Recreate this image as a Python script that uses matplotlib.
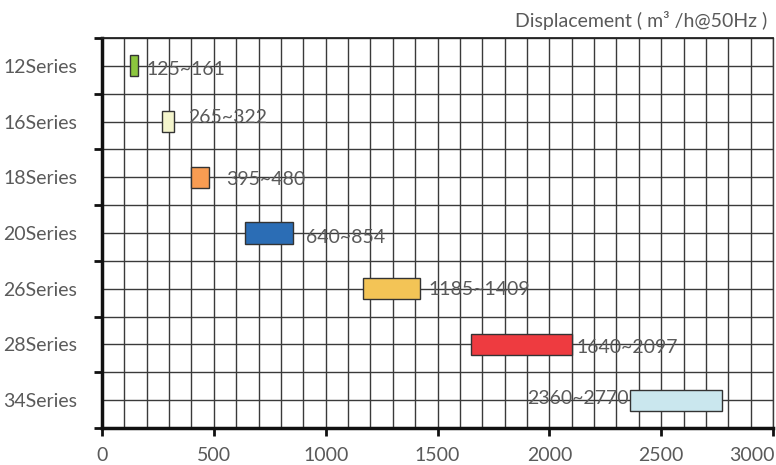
import matplotlib
matplotlib.use('Agg')
import matplotlib.pyplot as plt
import matplotlib.ticker
import matplotlib.transforms as mtransforms

plt.rcParams['font.family'] = ['Lato', 'DejaVu Sans']

# data
series = ['12Series', '16Series', '18Series', '20Series', '26Series', '28Series', '34Series']
bar_start = [125, 268, 398, 640, 1168, 1651, 2362]
bar_end = [161, 323, 478, 854, 1421, 2100, 2773]
range_labels = ['125~161', '265~322', '395~480', '640~854', '1185~1409', '1640~2097', '2360~2770']

colors = ['#8cc63e', '#f4f5cc', '#f89c52', '#2b6db5', '#f3c456', '#ee3b40', '#cae7ee']
# label placement in pixels relative to bar end (negative -> left of bar start)
label_dx = [8, 14, 17, 13, 9, 5, -2]
label_dy = [-4, 4, -2, -4, -1, -3, 2]

text_col = '#5a5a5a'
grid_col = '#3a3a3a'
fsize = 14


def draw():
	fig = plt.figure(figsize=(7.76, 4.65), dpi=100)
	ax = fig.add_axes([102 / 776, 1 - 428 / 465, 671 / 776, 390 / 465])

	ypos = list(range(len(series)))
	widths = [e - s for s, e in zip(bar_start, bar_end)]
	ax.barh(ypos, widths, left=bar_start, height=0.38, color=colors,
		edgecolor='#333333', linewidth=1.0, zorder=3)

	for i in ypos:
		if label_dx[i] < 0:
			ax.annotate(range_labels[i], (bar_start[i], i), xytext=(label_dx[i], label_dy[i]),
				textcoords='offset pixels', ha='right', va='center', fontsize=fsize, color=text_col, zorder=4)
		else:
			ax.annotate(range_labels[i], (bar_end[i], i), xytext=(label_dx[i], label_dy[i]),
				textcoords='offset pixels', ha='left', va='center', fontsize=fsize, color=text_col, zorder=4)

	ax.set_xlim(0, 3000)
	ax.set_ylim(len(series) - 0.5, -0.5)

	ax.set_xticks(range(0, 3001, 500))
	ax.xaxis.set_minor_locator(matplotlib.ticker.MultipleLocator(100))
	ax.set_yticks(ypos)
	ax.set_yticklabels(series)
	ax.set_yticks([y + 0.5 for y in range(-1, len(series))], minor=True)

	ax.grid(True, which='both', color=grid_col, linewidth=1.0, zorder=1)
	ax.set_axisbelow(True)

	ax.tick_params(axis='x', which='major', direction='out', length=6, width=2, pad=8,
		labelsize=fsize, labelcolor=text_col, color='#111111')
	ax.tick_params(axis='x', which='minor', length=0)
	ax.tick_params(axis='y', which='major', length=0, pad=18, labelsize=fsize, labelcolor=text_col)
	ax.tick_params(axis='y', which='minor', direction='out', length=6, width=2, color='#111111')

	for side in ['left', 'bottom']:
		ax.spines[side].set_linewidth(2.5)
		ax.spines[side].set_color('#111111')
	ax.spines['top'].set_linewidth(1.3)
	ax.spines['right'].set_linewidth(1.0)
	ax.spines['top'].set_color('#222222')
	ax.spines['right'].set_color(grid_col)

	# keep the 3000 label inside the figure, as in the reference
	fig.canvas.draw()
	for lab in ax.get_xticklabels():
		if lab.get_text() == '3000':
			lab.set_horizontalalignment('right')
			lab.set_transform(lab.get_transform() + mtransforms.ScaledTranslation(2 / 100, 0, fig.dpi_scale_trans))

	fig.text(767 / 776, 1 - 20 / 465, 'Displacement ( m\u00b3 /h@50Hz )', ha='right', va='center',
		fontsize=fsize, color=text_col)

	fig.savefig('out.png', dpi=100)


if __name__ == '__main__':
	draw()
